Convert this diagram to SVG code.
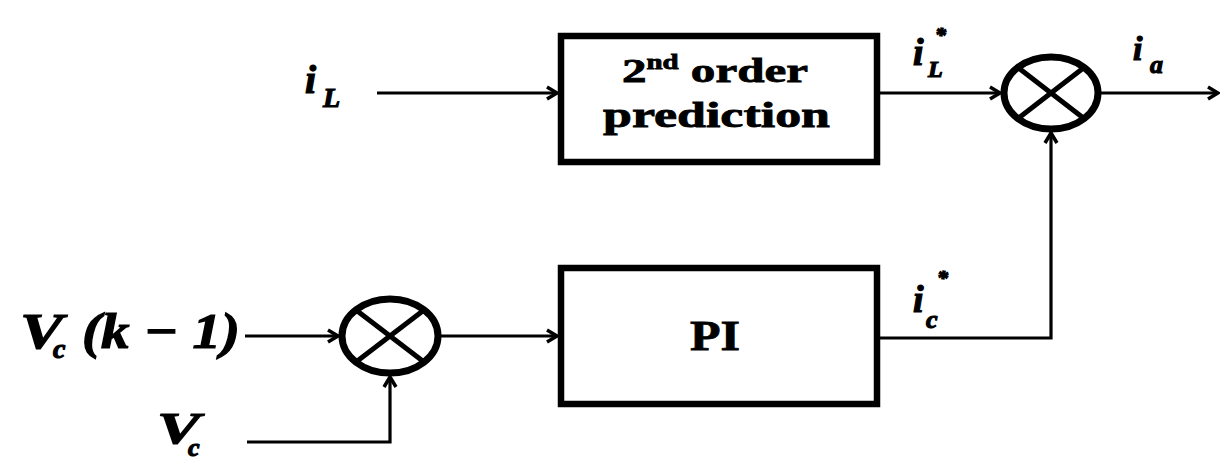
<svg xmlns="http://www.w3.org/2000/svg" width="1220" height="461" viewBox="0 0 1220 461">
<style>
.box{fill:#fff;stroke:#000;stroke-width:6.5}
.sum{fill:#fff;stroke:#000;stroke-width:7}
.x{stroke:#000;stroke-width:5}
.wire{fill:none;stroke:#000;stroke-width:3.2}
.bt{font-family:"Liberation Serif","Times New Roman",serif;font-weight:bold;fill:#000;stroke:#000;stroke-width:0.8}
.m{font-family:"Liberation Serif","Times New Roman",serif;font-weight:bold;font-style:italic;fill:#000;stroke:#000;stroke-width:1.2}
</style>
<defs>
<marker id="arr" markerUnits="userSpaceOnUse" markerWidth="16" markerHeight="16" refX="12" refY="7" orient="auto" viewBox="0 0 16 14">
<path d="M2,1 L12,7 L2,13" fill="none" stroke="#000" stroke-width="3.5" stroke-linejoin="miter"/>
</marker>
</defs>
<rect width="1220" height="461" fill="#fff"/>
<g id="connectors">
<path class="wire" d="M377,93 H557" marker-end="url(#arr)"/>
<path class="wire" d="M880,93 H1000" marker-end="url(#arr)"/>
<path class="wire" d="M1101,93 H1218" marker-end="url(#arr)"/>
<path class="wire" d="M245,336 H338" marker-end="url(#arr)"/>
<path class="wire" d="M247,442 H390 V377" marker-end="url(#arr)"/>
<path class="wire" d="M441,336 H557" marker-end="url(#arr)"/>
<path class="wire" d="M880,338 H1051 V133" marker-end="url(#arr)"/>
</g>
<g id="prediction">
<rect class="box" x="561" y="36" width="316" height="126"/>
<text class="bt" x="622" y="82" font-size="34" textLength="186" lengthAdjust="spacingAndGlyphs">2<tspan font-size="20" dy="-13">nd</tspan><tspan dy="13"> order</tspan></text>
<text class="bt" x="603" y="127" font-size="35" textLength="227" lengthAdjust="spacingAndGlyphs">prediction</text>
</g>
<g id="pi">
<rect class="box" x="561" y="268" width="316" height="136"/>
<text class="bt" x="690" y="350" font-size="42" textLength="50" lengthAdjust="spacingAndGlyphs">PI</text>
</g>
<g id="sum-top">
<ellipse class="sum" cx="1051" cy="93" rx="47" ry="36"/>
<line class="x" x1="1018" y1="67.5" x2="1084" y2="118.5"/>
<line class="x" x1="1018" y1="118.5" x2="1084" y2="67.5"/>
</g>
<g id="sum-bottom">
<ellipse class="sum" cx="390" cy="336" rx="48" ry="37"/>
<line class="x" x1="356" y1="310" x2="424" y2="362"/>
<line class="x" x1="356" y1="362" x2="424" y2="310"/>
</g>
<g id="labels">
<text class="m" x="305" y="93" font-size="40">i</text>
<text class="m" x="323" y="107" font-size="28">L</text>
<text class="m" x="913" y="65" font-size="38">i</text>
<text class="m" x="928" y="77" font-size="24">L</text>
<text class="m" x="935" y="42" font-size="22">*</text>
<text class="m" x="1133" y="60" font-size="34">i</text>
<text class="m" x="1150" y="73" font-size="26">a</text>
<text class="m" x="913" y="312" font-size="38">i</text>
<text class="m" x="926" y="328" font-size="26">c</text>
<text class="m" x="937" y="285" font-size="22">*</text>
<text class="m" x="20" y="348" font-size="50" textLength="43" lengthAdjust="spacingAndGlyphs">V</text>
<text class="m" x="53" y="358" font-size="28">c</text>
<text class="m" x="82" y="348" font-size="50" textLength="158" lengthAdjust="spacingAndGlyphs">(k − 1)</text>
<text class="m" x="157" y="443" font-size="44" textLength="43" lengthAdjust="spacingAndGlyphs">V</text>
<text class="m" x="188" y="456" font-size="26">c</text>
</g>
</svg>
